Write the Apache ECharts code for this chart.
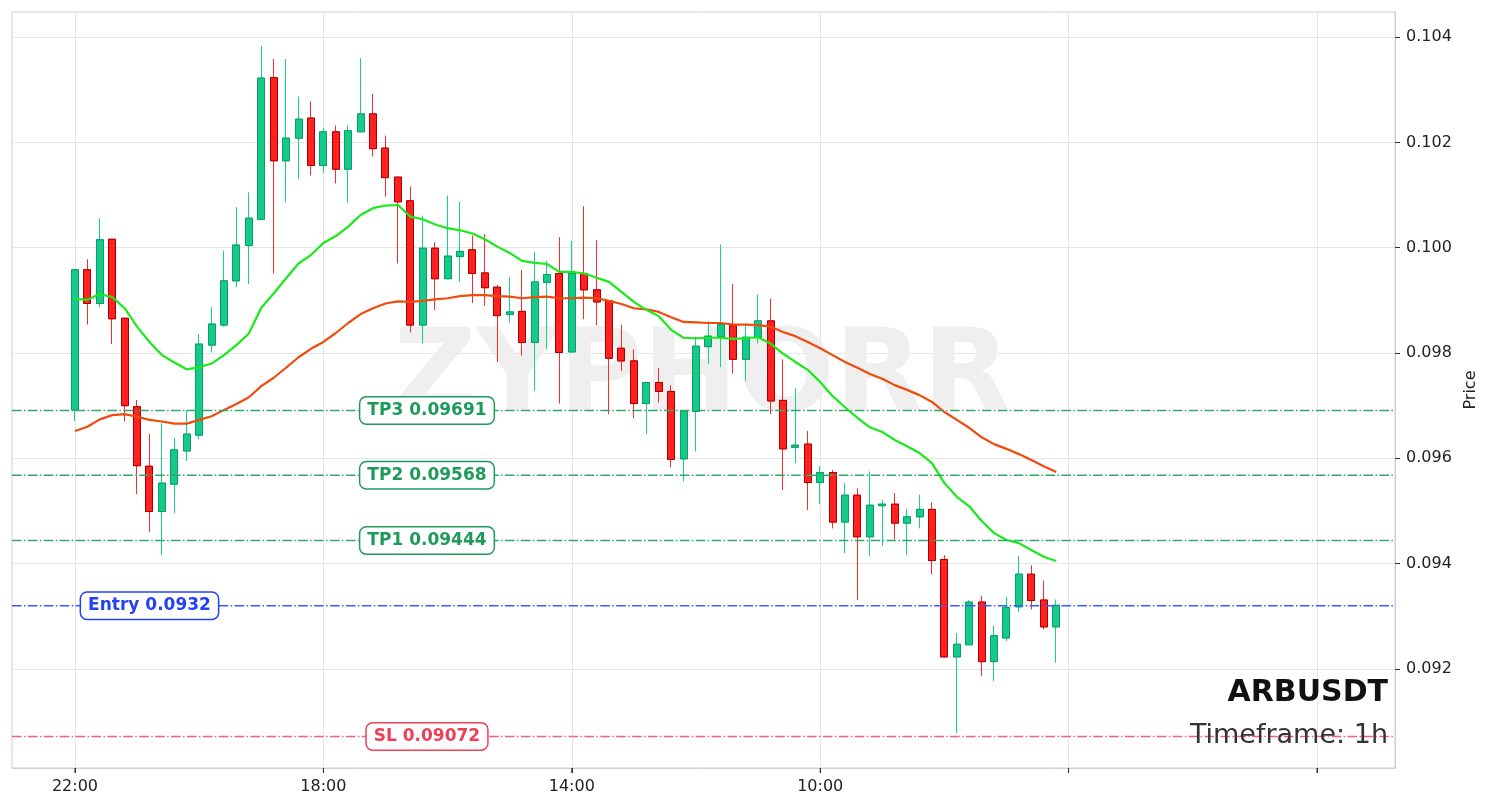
<!DOCTYPE html>
<html>
<head>
<meta charset="utf-8">
<script src="https://cdn.jsdelivr.net/npm/echarts@6/dist/echarts.min.js"></script>
<style>html,body{margin:0;padding:0;background:#fff}#c{width:1490px;height:808px}</style>
</head>
<body>
<div id="c"></div>
<script>
// ---- data ----
const opens = [0.09692,0.09958,0.09894,0.10016,0.09866,0.09698,0.09585,0.09499,0.09551,0.09614,
0.09644,0.09815,0.09853,0.09937,0.10004,0.10054,0.10323,0.10165,0.10208,0.10246,
0.10156,0.10220,0.10149,0.10220,0.10254,0.10189,0.10134,0.10089,0.09853,0.09999,
0.09941,0.09983,0.09996,0.09952,0.09925,0.09873,0.09879,0.09820,0.09934,0.09951,
0.09802,0.09951,0.09920,0.09899,0.09809,0.09785,0.09704,0.09744,0.09727,0.09599,
0.09689,0.09812,0.09831,0.09852,0.09788,0.09830,0.09861,0.09710,0.09621,0.09627,
0.09554,0.09573,0.09479,0.09530,0.09451,0.09510,0.09513,0.09477,0.09489,0.09503,
0.09408,0.09223,0.09246,0.09327,0.09214,0.09259,0.09318,0.09380,0.09331,0.09280];
const closes = [0.09958,0.09894,0.10015,0.09865,0.09700,0.09586,0.09499,0.09553,0.09616,0.09646,
0.09817,0.09855,0.09937,0.10005,0.10056,0.10322,0.10165,0.10208,0.10244,0.10156,
0.10220,0.10149,0.10222,0.10254,0.10188,0.10133,0.10087,0.09853,0.09999,0.09941,
0.09984,0.09993,0.09951,0.09924,0.09871,0.09878,0.09820,0.09935,0.09949,0.09801,
0.09951,0.09920,0.09897,0.09790,0.09785,0.09704,0.09744,0.09727,0.09598,0.09690,
0.09813,0.09832,0.09854,0.09788,0.09830,0.09861,0.09709,0.09618,0.09625,0.09554,
0.09573,0.09479,0.09530,0.09451,0.09511,0.09513,0.09477,0.09489,0.09503,0.09406,
0.09223,0.09247,0.09327,0.09214,0.09263,0.09317,0.09380,0.09330,0.09280,0.09321];
const lows = [0.09671,0.09854,0.09887,0.09817,0.09670,0.09532,0.09460,0.09416,0.09496,0.09595,
0.09636,0.09801,0.09850,0.09925,0.09931,0.10054,0.09951,0.10086,0.10130,0.10137,
0.10142,0.10122,0.10086,0.10220,0.10173,0.10097,0.09970,0.09839,0.09818,0.09882,
0.09941,0.09935,0.09895,0.09890,0.09783,0.09858,0.09795,0.09728,0.09807,0.09704,
0.09802,0.09864,0.09853,0.09684,0.09766,0.09676,0.09646,0.09706,0.09583,0.09556,
0.09613,0.09779,0.09773,0.09761,0.09747,0.09818,0.09684,0.09540,0.09591,0.09502,
0.09513,0.09467,0.09420,0.09331,0.09415,0.09434,0.09446,0.09416,0.09467,0.09380,
0.09221,0.09078,0.09246,0.09187,0.09177,0.09253,0.09309,0.09313,0.09275,0.09212];
const highs = [0.09958,0.09978,0.10056,0.10016,0.09866,0.09711,0.09646,0.09667,0.09639,0.09692,
0.09836,0.09887,0.09994,0.10077,0.10105,0.10383,0.10358,0.10358,0.10287,0.10278,
0.10227,0.10232,0.10232,0.10360,0.10292,0.10213,0.10134,0.10116,0.10061,0.10010,
0.10099,0.10087,0.10023,0.10026,0.09929,0.09944,0.09958,0.09992,0.09975,0.10020,
0.10013,0.10079,0.10015,0.09899,0.09854,0.09807,0.09744,0.09771,0.09739,0.09690,
0.09831,0.09861,0.10006,0.09931,0.09856,0.09911,0.09903,0.09788,0.09733,0.09652,
0.09585,0.09578,0.09553,0.09543,0.09575,0.09521,0.09534,0.09504,0.09531,0.09516,
0.09416,0.09268,0.09331,0.09339,0.09282,0.09337,0.09415,0.09397,0.09368,0.09332];
const emaFast = [0.09903,0.09901,0.09912,0.09906,0.09885,0.09850,0.09821,0.09796,0.09782,0.09769,
0.09773,0.09780,0.09796,0.09815,0.09837,0.09886,0.09913,0.09942,0.09970,0.09986,
0.10009,0.10022,0.10040,0.10062,0.10075,0.10080,0.10081,0.10059,0.10054,0.10044,
0.10037,0.10033,0.10027,0.10016,0.10002,0.09990,0.09975,0.09971,0.09969,0.09954,
0.09954,0.09951,0.09943,0.09935,0.09916,0.09897,0.09882,0.09870,0.09844,0.09829,
0.09828,0.09829,0.09829,0.09827,0.09828,0.09830,0.09818,0.09799,0.09783,0.09768,
0.09745,0.09718,0.09697,0.09677,0.09659,0.09650,0.09635,0.09623,0.09610,0.09591,
0.09553,0.09527,0.09509,0.09481,0.09458,0.09445,0.09439,0.09426,0.09413,0.09405];
const emaSlow = [0.09652,0.09660,0.09674,0.09682,0.09684,0.09679,0.09673,0.09670,0.09666,0.09666,
0.09673,0.09680,0.09692,0.09703,0.09716,0.09737,0.09753,0.09772,0.09792,0.09808,
0.09821,0.09838,0.09857,0.09874,0.09885,0.09894,0.09898,0.09897,0.09899,0.09902,
0.09904,0.09908,0.09910,0.09910,0.09908,0.09907,0.09904,0.09906,0.09907,0.09904,
0.09904,0.09905,0.09904,0.09899,0.09893,0.09885,0.09883,0.09878,0.09868,0.09859,
0.09858,0.09857,0.09857,0.09854,0.09854,0.09853,0.09850,0.09840,0.09832,0.09821,
0.09809,0.09796,0.09783,0.09772,0.09760,0.09751,0.09739,0.09730,0.09720,0.09707,
0.09688,0.09673,0.09658,0.09640,0.09627,0.09618,0.09608,0.09597,0.09585,0.09574];
const xTickIndex = [0, 20, 40, 60, 80, 100];
const xTickLabels = ['22:00', '18:00', '14:00', '10:00'];
const yTicks = [0.092, 0.094, 0.096, 0.098, 0.100, 0.102, 0.104];
const levelNames = ['TP3', 'TP2', 'TP1', 'Entry', 'SL'];
const levelValues = [0.09691, 0.09568, 0.09444, 0.0932, 0.09072];
const symbolName = 'ARBUSDT';
const timeframe = '1h';
const watermark = 'ZYPHORR';

// ---- chart ----
const FONT = '"DejaVu Sans", sans-serif';
const X_MIN = -5.07, X_MAX = 106.28;
const Y_MIN = 0.09012, Y_MAX = 0.104475;
const GRID = {left: 12, right: 95, top: 12, bottom: 40};
const PLOT_H = 808 - GRID.top - GRID.bottom;
const PX = (Y_MAX - Y_MIN) / PLOT_H;   // price units per pixel
const TICK_LEN_PX = 5;

const levelStyle = {
  TP3: {line: '#34a86c', text: '#1e9a5a', lx: 28.34},
  TP2: {line: '#34a86c', text: '#1e9a5a', lx: 28.34},
  TP1: {line: '#34a86c', text: '#1e9a5a', lx: 28.34},
  Entry: {line: '#3d5cff', text: '#2343f3', lx: 6.0},
  SL: {line: '#f2607a', text: '#ec4058', lx: 28.34}
};

const candleData = opens.map((o, i) => [i, o, closes[i], lows[i], highs[i]]);
const bodyData = opens.map((o, i) => [i, o, closes[i], Math.min(o, closes[i]), Math.max(o, closes[i])]);

const series = [
  {
    type: 'candlestick', name: 'wicks', data: candleData, barWidth: 7.5, z: 2,
    itemStyle: {color: '#14cb89', color0: '#ff2020', borderColor: '#18cf8c', borderColor0: '#ff2a2a', borderWidth: 1}
  },
  {
    type: 'candlestick', name: 'bodies', data: bodyData, barWidth: 7.5, z: 3,
    itemStyle: {color: '#14cb89', color0: '#ff2020', borderColor: '#0c9c66', borderColor0: '#a80000', borderWidth: 1}
  },
  {
    type: 'line', name: 'slow', data: emaSlow.map((v, i) => [i, v]), showSymbol: false, z: 4,
    lineStyle: {color: '#f04a0c', width: 2.2}
  },
  {
    type: 'line', name: 'fast', data: emaFast.map((v, i) => [i, v]), showSymbol: false, z: 4,
    lineStyle: {color: '#19ea19', width: 2.2}
  }
];
levelNames.forEach((n, k) => {
  const st = levelStyle[n];
  const v = levelValues[k];
  series.push({
    type: 'line', name: n + 'line', data: [[X_MIN, v], [X_MAX, v]], showSymbol: false, z: 5,
    lineStyle: {color: st.line, width: 1.5, type: [9.6, 2.4, 1.5, 2.4]}
  });
  series.push({
    type: 'scatter', name: n + 'label', data: [[st.lx, v]], symbolSize: 1, z: 6,
    itemStyle: {color: 'rgba(0,0,0,0)', opacity: 1},
    label: {
      show: true, position: 'inside', formatter: n + ' ' + v, opacity: 1,
      fontFamily: FONT, fontWeight: 'bold', fontSize: 17, color: st.text,
      backgroundColor: '#ffffff', borderColor: st.text, borderWidth: 1.5, borderRadius: 6,
      padding: [5, 7, 4, 7]
    }
  });
});
// bottom x-axis tick marks, drawn through the axes' scales just below the plot frame
xTickIndex.forEach(t => {
  series.push({
    type: 'line', name: 'xtick' + t, data: [[t, Y_MIN], [t, Y_MIN - PX * TICK_LEN_PX]],
    showSymbol: false, clip: false, silent: true, z: 50,
    lineStyle: {color: '#333333', width: 1, cap: 'butt'}
  });
});
// bottom x-axis tick labels
series.push({
  type: 'scatter', name: 'xlabels', clip: false, silent: true, symbolSize: 1, z: 50,
  itemStyle: {color: 'rgba(0,0,0,0)', opacity: 1},
  data: xTickLabels.map((s, k) => ({value: [xTickIndex[k], Y_MIN - PX * 18.5], name: s})),
  label: {show: true, position: 'inside', formatter: p => p.name, opacity: 1,
          fontFamily: FONT, fontSize: 16, color: '#222222'}
});

const chart = echarts.init(document.getElementById('c'), null, {renderer: 'canvas'});
chart.setOption({
  animation: false,
  backgroundColor: '#ffffff',
  grid: Object.assign({show: true, borderColor: '#cfcfcf', borderWidth: 1, backgroundColor: 'transparent'}, GRID),
  xAxis: {
    type: 'value', min: X_MIN, max: X_MAX,
    axisLine: {show: true, onZero: false, lineStyle: {color: '#cfcfcf', width: 1}},
    axisTick: {show: true, customValues: xTickIndex, length: TICK_LEN_PX, lineStyle: {color: '#333'}},
    axisLabel: {show: false},
    splitLine: {show: true, lineStyle: {color: '#e6e6e6', width: 1}}
  },
  yAxis: {
    type: 'value', position: 'right', min: Y_MIN, max: Y_MAX,
    name: 'Price', nameLocation: 'middle', nameGap: 67, nameRotate: 90,
    nameTextStyle: {fontFamily: FONT, fontSize: 16, color: '#222'},
    axisLine: {show: true, onZero: false, lineStyle: {color: '#cfcfcf', width: 1}},
    axisTick: {show: true, customValues: yTicks, length: TICK_LEN_PX, lineStyle: {color: '#333'}},
    axisLabel: {customValues: yTicks, formatter: v => v.toFixed(3), fontFamily: FONT, fontSize: 16, color: '#222', margin: 11},
    splitLine: {show: true, lineStyle: {color: '#e6e6e6', width: 1}}
  },
  graphic: [
    {type: 'text', x: 702, y: 380, z: 1, silent: true,
     style: {text: watermark, font: 'bold 114px ' + FONT, fill: '#efefef', textAlign: 'center', textVerticalAlign: 'middle', align: 'center', verticalAlign: 'middle'}},
    {type: 'text', x: 1388, y: 693, z: 10,
     style: {text: symbolName, font: 'bold 30px ' + FONT, fill: '#111111', textAlign: 'right', textVerticalAlign: 'middle', align: 'right', verticalAlign: 'middle'}},
    {type: 'text', x: 1388, y: 736, z: 10,
     style: {text: 'Timeframe: ' + timeframe, font: '27px ' + FONT, fill: '#333333', textAlign: 'right', textVerticalAlign: 'middle', align: 'right', verticalAlign: 'middle'}}
  ],
  series: series
});
</script>
</body>
</html>
